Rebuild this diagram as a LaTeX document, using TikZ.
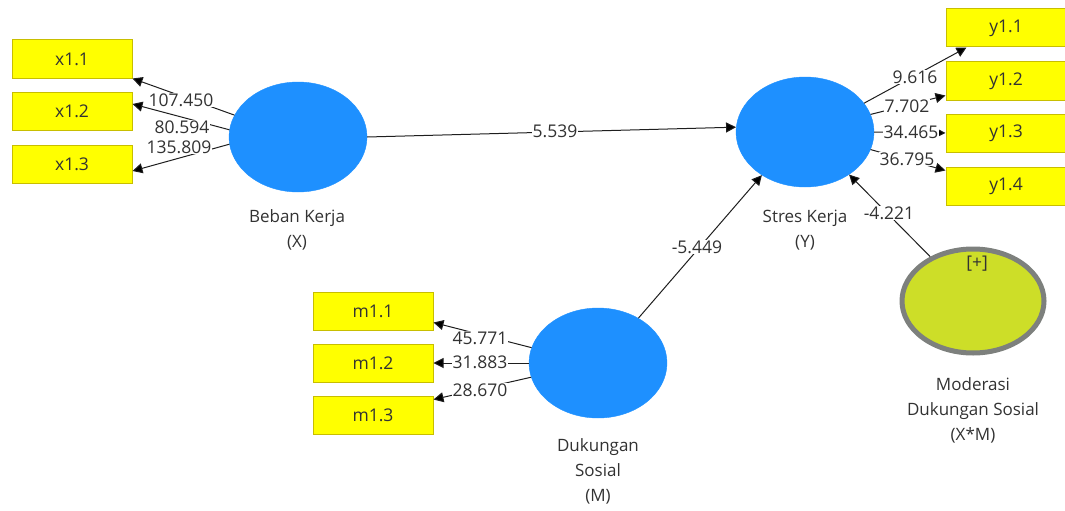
\documentclass[tikz,border=0pt]{standalone}
\usepackage{fontspec}
\setmainfont{Open Sans}
\usetikzlibrary{shapes.geometric,arrows.meta}
\definecolor{lvblue}{RGB}{30,144,255}
\definecolor{indy}{RGB}{255,255,0}
\definecolor{indyborder}{RGB}{200,190,0}
\definecolor{modfill}{RGB}{205,222,40}
\definecolor{modborder}{RGB}{125,128,125}
\definecolor{txt}{RGB}{50,50,50}
\definecolor{ln}{RGB}{30,30,30}
\tikzset{
  x=1pt, y=-1pt,
  every node/.style={font=\fontsize{17.5}{20}\selectfont, text=txt},
  indbox/.style={draw=indyborder, fill=indy, line width=1pt, minimum width=120pt, minimum height=38pt, inner sep=0pt},
  lv/.style={ellipse, fill=lvblue, draw=lvblue, minimum width=138pt, minimum height=110pt, inner sep=0pt},
  modlv/.style={ellipse, fill=modfill, draw=modborder, line width=5pt, minimum width=142pt, minimum height=104pt, inner sep=0pt},
  arr/.style={draw=ln, line width=1pt, -{Triangle[length=10pt,width=10pt,fill=black]}},
  lab/.style={fill=white, inner sep=1pt},
  cap2/.style={align=center, font=\fontsize{17}{25}\selectfont}
}
\begin{document}
\begin{tikzpicture}
\useasboundingbox (0,0) rectangle (1065,511);
% indicator boxes
\node[indbox] (x11) at (72,59) {x1.1};
\node[indbox] (x12) at (72,111) {x1.2};
\node[indbox] (x13) at (72,164) {x1.3};
\node[indbox] (y11) at (1006,28) {y1.1};
\node[indbox] (y12) at (1006,81) {y1.2};
\node[indbox] (y13) at (1006,133) {y1.3};
\node[indbox] (y14) at (1006,186) {y1.4};
\node[indbox] (m11) at (373,311) {m1.1};
\node[indbox] (m12) at (373,363) {m1.2};
\node[indbox] (m13) at (373,415) {m1.3};
% latent variables
\node[lv] (X) at (298,137) {};
\node[lv] (Y) at (805,132) {};
\node[lv] (M) at (598,363) {};
\node[modlv] (XM) at (973,301) {};
\node (plus) at (977,264) {[+]};
% captions
\node[cap2] (Xcap) at (297,230) {Beban Kerja\\(X)};
\node[cap2] (Ycap) at (805,230) {Stres Kerja\\(Y)};
\node[cap2] (Mcap) at (598,471) {Dukungan\\Sosial\\(M)};
\node[cap2] (XMcap) at (973,410) {Moderasi\\Dukungan Sosial\\(X*M)};
% outer loadings
\draw[arr] (X.161) -- (x11.south east);
\draw[arr] (X.174) -- ([yshift=7pt]x12.east);
\draw[arr] (X.186) -- ([yshift=-7pt]x13.east);
\draw[arr] (Y.26) -- ([xshift=21pt]y11.south west);
\draw[arr] (Y.15) -- ([yshift=5pt]y12.south west);
\draw[arr] (Y.0) -- (y13.west);
\draw[arr] (Y.-15) -- ([yshift=-4pt]y14.north west);
\draw[arr] (M.167) -- ([yshift=8pt]m11.south east);
\draw[arr] (M.180) -- (m12.east);
\draw[arr] (M.192) -- ([yshift=-4pt]m13.north east);
% structural paths
\draw[arr] (X.east) -- (Y.176);
\draw[arr] (M.48) -- (Y.225);
\draw[arr] (XM.134) -- (Y.-44);
% labels
\node[lab] (lx1) at (181,100) {107.450};
\node[lab] (lx2) at (182,127) {80.594};
\node[lab] (lx3) at (179,147) {135.809};
\node[lab] (ly1) at (915,77) {9.616};
\node[lab] (ly2) at (907,106) {7.702};
\node[lab] (ly3) at (911,132) {34.465};
\node[lab] (ly4) at (907,159) {36.795};
\node[lab] (lm1) at (480,338) {45.771};
\node[lab] (lm2) at (480,362) {31.883};
\node[lab] (lm3) at (480,390) {28.670};
\node[lab] (lxy) at (555,131) {5.539};
\node[lab] (lmy) at (697,247) {-5.449};
\node[lab] (lxmy) at (889,213) {-4.221};
\end{tikzpicture}
\end{document}
